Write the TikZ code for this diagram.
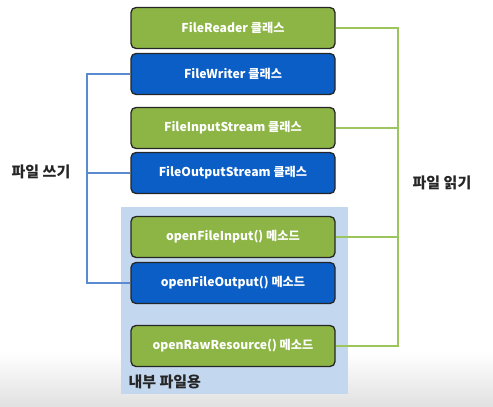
\documentclass[tikz,border=0pt]{standalone}
\usepackage{fontspec}
\setmainfont{Noto Sans CJK KR}
\usetikzlibrary{positioning,calc}
\definecolor{rdgreen}{HTML}{8CB545}
\definecolor{wrblue}{HTML}{0A5EC6}
\definecolor{inlight}{HTML}{C3D7EF}
\definecolor{wrline}{HTML}{5A8AD0}
\definecolor{rdline}{HTML}{9CC55E}

\begin{document}
\begin{tikzpicture}[x=1pt, y=-1pt,
  classbox/.style={draw=black!85, line width=1.3pt, rounded corners=5pt,
    minimum width=204pt, minimum height=41pt, inner sep=0pt,
    font=\bfseries\fontsize{12.2}{14}\selectfont, text=white},
  readbox/.style={classbox, fill=rdgreen},
  writebox/.style={classbox, fill=wrblue},
  readline/.style={rdline, line width=2pt},
  writeline/.style={wrline, line width=2pt},
  sidelabel/.style={font=\bfseries\fontsize{15}{17}\selectfont, text=black!85},
]
\useasboundingbox (0,0) rectangle (493,407);
% grey fade at the bottom
\shade[top color=white, bottom color=black!12] (0,352) rectangle (493,407);
% internal-file region
\fill[inlight] (121,207) rectangle (348,394);
\node[sidelabel, anchor=west] (inner) at (125,382) {내부 파일용};

\node[readbox]  (reader) at (233,28)  {FileReader 클래스};
\node[writebox] (writer) at (233,74)  {FileWriter 클래스};
\node[readbox]  (fis)    at (233,128) {FileInputStream 클래스};
\node[writebox] (fos)    at (233,173) {FileOutputStream 클래스};
\node[readbox]  (ofi)    at (233,237) {openFileInput() 메소드};
\node[writebox] (ofo)    at (233,283) {openFileOutput() 메소드};
\node[readbox]  (raw)    at (233,346) {openRawResource() 메소드};

% writing bus on the left
\coordinate (wbus) at (87,0);
\draw[writeline] (writer.west) -- (writer.west -| wbus) -- (ofo.west -| wbus) -- (ofo.west);
\draw[writeline] (fos.west) -- (fos.west -| wbus);
\node[sidelabel] (write) at (41,172) {파일 쓰기};

% reading bus on the right
\coordinate (rbus) at (398,0);
\draw[readline] (reader.east) -- (reader.east -| rbus) -- (raw.east -| rbus) -- (raw.east);
\draw[readline] (fis.east) -- (fis.east -| rbus);
\draw[readline] (ofi.east) -- (ofi.east -| rbus);
\node[sidelabel] (read) at (442,183) {파일 읽기};
\end{tikzpicture}
\end{document}
